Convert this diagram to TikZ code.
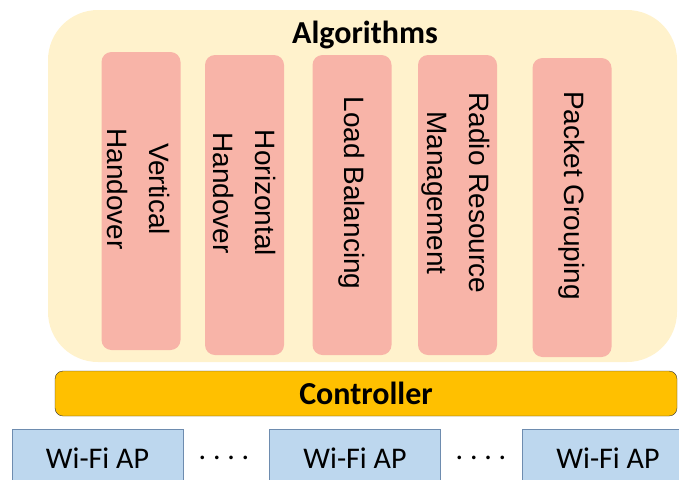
\documentclass[tikz,border=0pt]{standalone}
\usepackage{fontspec}
\setmainfont{Carlito}
\newfontfamily\armfont{Liberation Sans}
\usetikzlibrary{positioning}
\definecolor{algoyellow}{RGB}{255,242,204}
\definecolor{algopink}{RGB}{248,180,168}
\definecolor{ctrlorange}{RGB}{255,192,0}
\definecolor{apblue}{RGB}{189,215,238}
\definecolor{apedge}{RGB}{110,140,175}
\tikzstyle{algbg}=[rectangle, rounded corners=50pt, fill=algoyellow, minimum width=629pt, minimum height=352pt, inner sep=0pt]
\tikzstyle{algo}=[rectangle, rounded corners=10pt, fill=algopink, minimum width=79pt, minimum height=300pt, inner sep=0pt]
\tikzstyle{algotext}=[rotate=-90, align=center, inner sep=0pt, font=\armfont\fontsize{28}{42}\selectfont]
\tikzstyle{ctrl}=[rectangle, rounded corners=8pt, draw=black!80, fill=ctrlorange, minimum width=622pt, minimum height=45pt, font=\bfseries\fontsize{32}{36}\selectfont]
\tikzstyle{ap}=[rectangle, draw=apedge, fill=apblue, minimum width=171pt, minimum height=59pt, font=\fontsize{30}{36}\selectfont]

\begin{document}
\begin{tikzpicture}[x=1pt, y=-1pt]
  \clip (0,0) rectangle (679,479);
  % algorithm block
  \node[algbg] (alg) at (362.5,186) {};
  \node[font=\bfseries\fontsize{32}{36}\selectfont] (title) at (365,35) {Algorithms};
  \node[algo, minimum height=298pt] (vh) at (141,201) {};
  \node[algo] (hh) at (244.5,205) {};
  \node[algo] (lb) at (352,205) {};
  \node[algo] (rr) at (457.5,205) {};
  \node[algo, minimum height=299pt] (pg) at (572,207.5) {};
  \node[algotext] (vhtext) at ([yshift=12pt, xshift=-2pt]vh.center) {Vertical\\Handover};
  \node[algotext] (hhtext) at ([yshift=12pt]hh.center) {Horizontal\\Handover};
  \node[algotext] (lbtext) at ([yshift=12pt]lb.center) {Load Balancing};
  \node[algotext] (rrtext) at ([yshift=12pt, xshift=-2pt]rr.center) {Radio Resource\\Management};
  \node[algotext] (pgtext) at ([yshift=12pt]pg.center) {Packet Grouping};
  % controller and access points
  \node[ctrl] (ctrl) at (366,393.5) {Controller};
  \node[ap] (ap1) at (97.5,458.5) {Wi-Fi AP};
  \node[ap] (ap2) at (355,458.5) {Wi-Fi AP};
  \node[ap, minimum width=172pt] (ap3) at (608,458.5) {Wi-Fi AP};
  \node[font=\fontsize{30}{36}\selectfont] (dots1) at (224,458) {.\ .\ .\ .};
  \node[font=\fontsize{30}{36}\selectfont] (dots2) at (481,458) {.\ .\ .\ .};
\end{tikzpicture}
\end{document}
